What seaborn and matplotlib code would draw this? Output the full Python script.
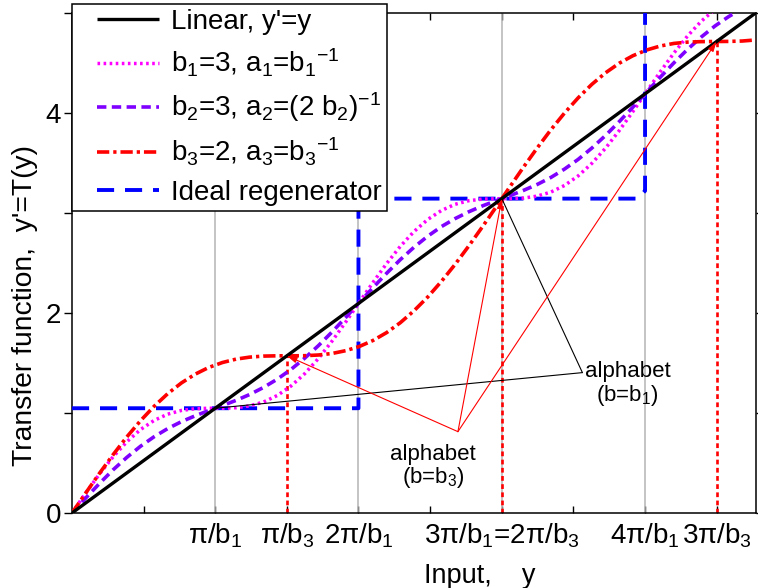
import numpy as np
import matplotlib
matplotlib.use("Agg")
import matplotlib.pyplot as plt
from matplotlib.legend_handler import HandlerLine2D
import seaborn as sns

# Input grid and the three sine-type transfer curves (y' = y + a*sin(b*y))
y_in = [0.0, 0.1, 0.2, 0.3, 0.4, 0.5, 0.6, 0.7, 0.8, 0.9,
        1.0, 1.1, 1.2, 1.3, 1.4, 1.5, 1.6, 1.7, 1.8, 1.9,
        2.0, 2.1, 2.2, 2.3, 2.4, 2.5, 2.6, 2.7, 2.8, 2.9,
        3.0, 3.1, 3.2, 3.3, 3.4, 3.5, 3.6, 3.7, 3.8, 3.9,
        4.0, 4.1, 4.2, 4.3, 4.4, 4.5, 4.6, 4.7, 4.8, 4.9, 5.0]

t_b1 = [0.000, 0.199, 0.388, 0.561, 0.711, 0.833, 0.925, 0.988, 1.025, 1.042,
        1.047, 1.047, 1.052, 1.071, 1.109, 1.174, 1.268, 1.391, 1.542, 1.716,
        1.907, 2.106, 2.304, 2.493, 2.665, 2.813, 2.933, 3.023, 3.085, 3.121,
        3.137, 3.141, 3.142, 3.147, 3.167, 3.207, 3.273, 3.369, 3.494, 3.646,
        3.821, 4.012, 4.211, 4.409, 4.597, 4.768, 4.915, 5.033, 5.122, 5.182, 5.217]

t_b2 = [0.000, 0.149, 0.294, 0.431, 0.555, 0.666, 0.762, 0.844, 0.913, 0.971,
        1.024, 1.074, 1.126, 1.185, 1.255, 1.337, 1.434, 1.546, 1.671, 1.808,
        1.953, 2.103, 2.252, 2.396, 2.532, 2.656, 2.766, 2.862, 2.942, 3.010,
        3.069, 3.121, 3.171, 3.224, 3.283, 3.353, 3.437, 3.534, 3.647, 3.773,
        3.911, 4.056, 4.206, 4.355, 4.499, 4.634, 4.757, 4.867, 4.961, 5.041, 5.108]

t_b3 = [0.000, 0.199, 0.395, 0.582, 0.759, 0.921, 1.066, 1.193, 1.300, 1.387,
        1.455, 1.504, 1.538, 1.558, 1.568, 1.571, 1.571, 1.572, 1.579, 1.594,
        1.622, 1.664, 1.724, 1.803, 1.902, 2.021, 2.158, 2.314, 2.484, 2.668,
        2.860, 3.058, 3.258, 3.456, 3.647, 3.829, 3.997, 4.149, 4.284, 4.399,
        4.495, 4.570, 4.627, 4.667, 4.693, 4.706, 4.711, 4.712, 4.713, 4.717, 4.728]

# Ideal regenerator staircase
ideal_x = [0.0, 2.094, 2.094, 4.135, 4.189, 4.189]
ideal_y = [1.047, 1.047, 3.142, 3.142, 3.220, 5.100]

# Alphabet levels
levels_b1 = [1.047, 2.094, 3.142, 4.189]   # pi/b1 multiples (grey guides)
levels_b3 = [1.571, 3.142, 4.712]          # pi/b3 multiples (red drop lines)

# x ticks every pi/6, labelled at the alphabet points
xtick_pos = [0.524, 1.047, 1.571, 2.094, 2.618, 3.142, 3.665, 4.189, 4.712]
xtick_lab = ["",
             r"$\mathregular{\pi/b_1}$",
             r"$\mathregular{\pi/b_3}$",
             r"$\mathregular{2\pi/b_1}$",
             "",
             r"$\mathregular{3\pi/b_1}$=$\mathregular{2\pi/b_3}$",
             "",
             r"$\mathregular{4\pi/b_1}$",
             r"$\mathregular{3\pi/b_3}$"]
ytick_pos = [0, 1, 2, 3, 4, 5]
ytick_lab = ["0", "", "2", "", "4", ""]

legend_labels = ["Linear, y'=y",
                 r"$\mathregular{b_1}$=3, $\mathregular{a_1}$=$\mathregular{b_1{}^{-1}}$",
                 r"$\mathregular{b_2}$=3, $\mathregular{a_2}$=(2 $\mathregular{b_2}$)$\mathregular{^{-1}}$",
                 r"$\mathregular{b_3}$=2, $\mathregular{a_3}$=$\mathregular{b_3{}^{-1}}$",
                 "Ideal regenerator"]


class PaddedLine(HandlerLine2D):
    """Legend line sample with some blank room on its left."""
    def get_xdata(self, legend, xdescent, ydescent, width, height, fontsize):
        pad = 0.72 * fontsize
        xdata = np.array([-xdescent + pad, -xdescent + width])
        return xdata, xdata


sns.set_theme(style="white")
plt.rcParams["font.family"] = ["Liberation Sans", "DejaVu Sans"]
plt.rcParams["mathtext.fontset"] = "custom"
plt.rcParams["mathtext.rm"] = "Liberation Sans"
plt.rcParams["mathtext.it"] = "Liberation Sans"
plt.rcParams["mathtext.sf"] = "Liberation Sans"
plt.rcParams["lines.solid_capstyle"] = "butt"
plt.rcParams["text.color"] = "black"
plt.rcParams["axes.labelcolor"] = "black"
plt.rcParams["xtick.color"] = "black"
plt.rcParams["ytick.color"] = "black"

fig = plt.figure(figsize=(7.58, 5.88), dpi=100)
ax = fig.add_axes([72 / 758, 75 / 588, 684 / 758, 500.3 / 588])
ax.set_facecolor("white")

# grey guides at multiples of pi/b1
for xv in levels_b1:
    ax.plot([xv, xv], [0, 5.2], color="#b4b4b4", lw=1.1, zorder=1)

# red drop lines at multiples of pi/b3, up to the b3 curve
for xv in levels_b3:
    ax.plot([xv, xv], [0, xv], color="#ff0000", lw=1.9,
            linestyle=(0, (1.8, 1.3)), zorder=2)

sns.lineplot(x=y_in, y=y_in, ax=ax, color="black", lw=2.4,
             label=legend_labels[0], zorder=6)
sns.lineplot(x=y_in, y=t_b1, ax=ax, color="#ff00ff", lw=2.5,
             linestyle=(0, (0.75, 1.0)), label=legend_labels[1], zorder=4)
sns.lineplot(x=y_in, y=t_b2, ax=ax, color="#7f00ff", lw=2.6,
             linestyle=(0, (2.6, 1.5)), label=legend_labels[2], zorder=4)
sns.lineplot(x=y_in, y=t_b3, ax=ax, color="#ff0000", lw=2.6,
             linestyle=(0, (3.4, 1.1, 0.9, 1.1)), label=legend_labels[3], zorder=5)
sns.lineplot(x=ideal_x, y=ideal_y, ax=ax, color="#0000ff", lw=2.8,
             linestyle=(0, (4.4, 2.8)), label=legend_labels[4], zorder=3,
             sort=False, estimator=None)

ax.set_xlim(0, 5.0)
ax.set_ylim(0, 5.0)
ax.set_xticks(xtick_pos)
ax.set_xticklabels(xtick_lab)
ax.set_yticks(ytick_pos)
ax.set_yticklabels(ytick_lab)
ax.tick_params(axis="x", direction="in", length=5, width=1.0, labelsize=20,
               pad=6, top=True, bottom=True, colors="black")
ax.tick_params(axis="y", direction="out", length=6, width=1.0, labelsize=20,
               pad=2, left=True, right=True, colors="black")
for sp in ax.spines.values():
    sp.set_color("black")
    sp.set_linewidth(1.1)

ax.set_xlabel("Input,    y", fontsize=19.5)
ax.set_ylabel("Transfer function,  y'=T(y)", fontsize=20.3)
ax.xaxis.set_label_coords((480 - 72) / 684, (513 - 563) / 500.3)
ax.yaxis.set_label_coords((38 - 72) / 684, (513 - 306) / 500.3)

# annotation lines for the two alphabets
hub_b1 = (3.731, 1.403)
hub_b3 = (2.821, 0.813)
for xv in [levels_b1[0], levels_b1[2]]:
    ax.annotate("", xy=(xv, xv), xytext=hub_b1,
                arrowprops=dict(arrowstyle="-", color="black", lw=0.8,
                                shrinkA=0, shrinkB=0), zorder=7)
for xv in levels_b3:
    ax.annotate("", xy=(xv, xv), xytext=hub_b3,
                arrowprops=dict(arrowstyle="-|>,head_length=0.5,head_width=0.15",
                                color="#ff0000", lw=0.8,
                                shrinkA=0, shrinkB=0), zorder=7)

ax.text(4.06, 1.28, "alphabet\n(b=" + r"$\mathregular{b_1}$" + ")",
        ha="center", va="center", fontsize=16, linespacing=1.05,
        color="black", zorder=8)
ax.text(2.64, 0.46, "alphabet\n(b=" + r"$\mathregular{b_3}$" + ")",
        ha="center", va="center", fontsize=16, linespacing=1.05,
        color="black", zorder=8)

handles, labels = ax.get_legend_handles_labels()
leg = ax.legend(handles, labels, loc="upper left",
                bbox_to_anchor=(0, 1 + 8.7 / 500.3),
                borderaxespad=0, fontsize=20, frameon=True, fancybox=False,
                framealpha=1, edgecolor="black", handlelength=2.95,
                handletextpad=0.45, labelspacing=0.42, borderpad=0.18,
                labelcolor="black",
                handler_map={h: PaddedLine() for h in handles})
leg.get_frame().set_linewidth(1.1)
leg.set_zorder(10)

fig.savefig("out.png", dpi=100)
